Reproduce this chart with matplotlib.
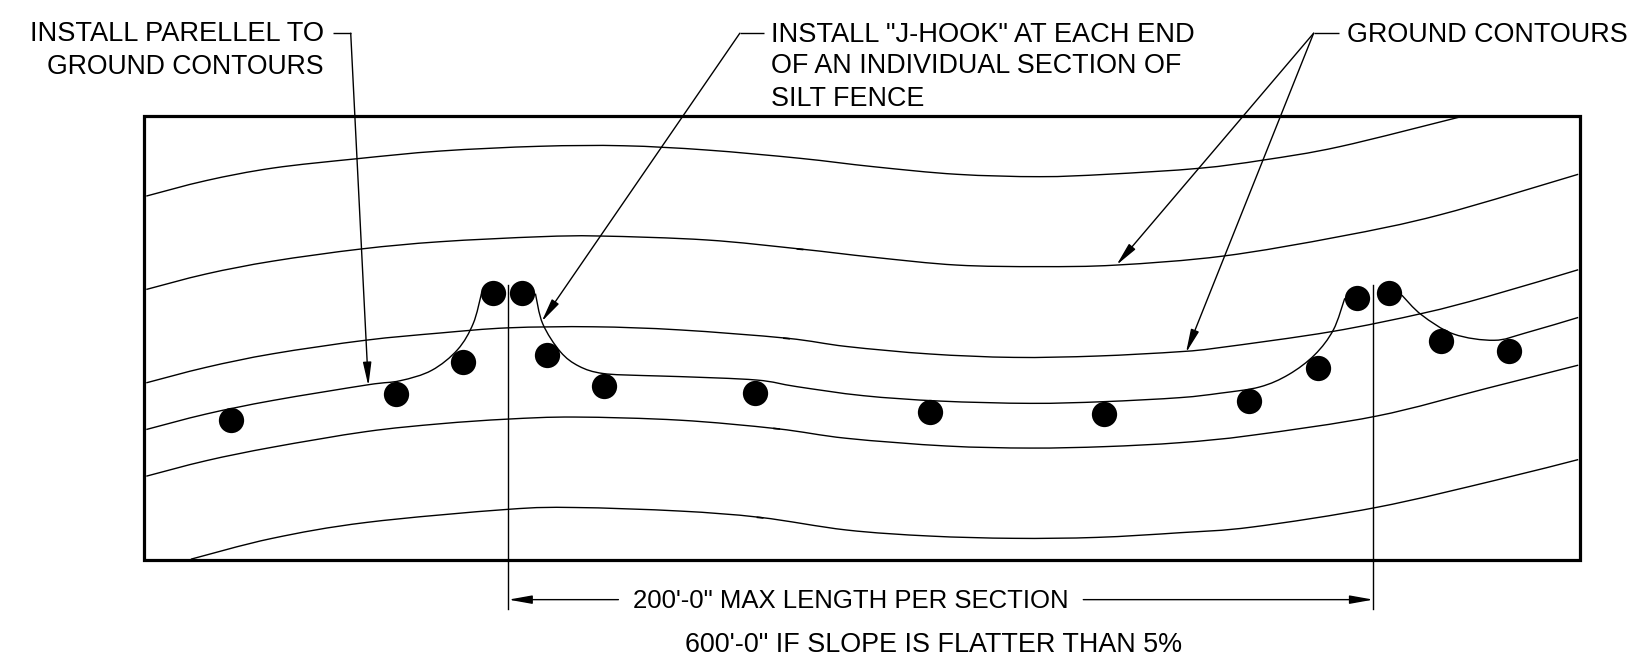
import matplotlib
matplotlib.use('Agg')
import matplotlib.pyplot as plt
from matplotlib.path import Path
from matplotlib.patches import PathPatch, Rectangle

plt.rcParams['font.family'] = ['Liberation Sans', 'DejaVu Sans']

# Ground contours
contour_1 = [(141, 189), (199, 174), (263, 162), (344, 153), (424, 145.6), (520, 141), (601, 140.5),
             (681, 144.6), (771, 152.6), (842, 160.7), (922, 168), (1002, 170.3), (1067, 168), (1156, 162.2),
             (1218, 154.2), (1291, 141.4), (1406, 113)]
contour_2 = [(141, 279), (199, 264), (263, 251.7), (348, 240), (424, 233), (520, 228.2), (578, 227.5),
             (681, 231.3), (771, 240), (842, 248), (922, 255.5), (1002, 257), (1076, 255.5), (1179, 246.8),
             (1291, 228), (1388, 207), (1521, 168)]
contour_3 = [(141, 369), (199, 354), (263, 341), (352, 328), (424, 321), (490, 316), (572, 315), (655, 318),
             (758, 326), (816, 334), (896, 341.2), (977, 344.5), (1057, 343.2), (1137, 339), (1176, 335),
             (1283, 319.7), (1371, 302), (1433, 286), (1521, 260)]
contour_5 = [(141, 459), (199, 444), (263, 431), (353, 416), (424, 408.5), (489, 404), (554, 402), (655, 405),
             (748.5, 413.2), (816, 422.5), (912, 429.9), (993, 431.9), (1065, 430.5), (1137, 426.7), (1207, 419.5),
             (1327, 401), (1433, 374.3), (1521, 352)]
contour_6 = [(184, 539), (262, 519), (353, 503.6), (489, 491), (554, 489.2), (655, 492.6), (732.5, 498.7),
             (816, 510.9), (896, 516.7), (977, 518.9), (1057, 518), (1137, 513.5), (1207, 508),
             (1327, 489), (1441, 463), (1521, 443)]

# Silt fence line, three pieces between the J-hooks
fence_left = [(141, 414), (199, 399), (263, 386), (354, 371), (385.5, 367), (416, 357), (441, 337),
              (456, 312), (464, 283)]
fence_mid = [(516, 283), (523, 312), (540, 339), (558, 353), (581, 360), (620, 362), (655, 363), (729, 366.3),
             (768, 372.7), (832, 381.4), (906, 386.6), (993, 388.8), (1063, 387.2), (1137, 383.3),
             (1176, 379), (1214, 373), (1242, 361), (1267, 342), (1285, 318), (1296, 287.5)]
fence_right = [(1351, 284.5), (1370, 303.5), (1401, 322), (1440, 328), (1470, 321), (1521, 306)]

# Stakes
stake_x = [223, 382, 446.5, 475.5, 503, 527.5, 582, 727.5, 896, 1063.5, 1204, 1270.5, 1308, 1338.6, 1388.8, 1454.4]
stake_y = [405, 380, 349, 282.5, 282, 342, 372, 378.5, 397.2, 398.8, 387, 355, 287, 282.8, 328.4, 338]

# Small nicks on the contours
nick_x = [771, 758, 748.5, 732.5]
nick_y = [240, 326, 413, 498.7]

# Leader lines
leader_1 = [(321, 32), (338, 32), (355, 372)]
leader_2 = [(736, 32), (713, 32), (522, 310)]
leader_3a = [(1290, 32), (1266, 32), (1076, 255.5)]
leader_3b = [(1266, 32), (1143, 340)]

# Extension and dimension lines
ext_left = 490
ext_right = 1323.5
ext_top = 275
ext_bottom = 587
dim_y = 578
dim_gap_left = 596
dim_gap_right = 1044

# Label text with the size that gives each line its width in the drawing
labels_right = [('INSTALL PARELLEL TO', 33, 19.6), ('GROUND CONTOURS', 65, 19.2)]
labels_left = [(743, 'INSTALL "J-HOOK" AT EACH END', 33.5, 19.6),
               (743, 'OF AN INDIVIDUAL SECTION OF', 64, 19.4),
               (743, 'SILT FENCE', 95, 19.4),
               (1298, 'GROUND CONTOURS', 33.5, 19.4)]
labels_center = [(820, '200\'-0" MAX LENGTH PER SECTION', 579.5, 18.5),
                 (900, '600\'-0" IF SLOPE IS FLATTER THAN 5%', 622, 19.4)]


def draw_curve(ax, points):
    # Smooth line through the read points, cubic pieces with tangents from the neighbours
    verts = [points[0]]
    codes = [Path.MOVETO]
    for i in range(len(points) - 1):
        p0 = points[max(i - 1, 0)]
        p1 = points[i]
        p2 = points[i + 1]
        p3 = points[min(i + 2, len(points) - 1)]
        c1 = (p1[0] + (p2[0] - p0[0]) / 6, p1[1] + (p2[1] - p0[1]) / 6)
        c2 = (p2[0] - (p3[0] - p1[0]) / 6, p2[1] - (p3[1] - p1[1]) / 6)
        verts += [c1, c2, p2]
        codes += [Path.CURVE4, Path.CURVE4, Path.CURVE4]
    ax.add_patch(PathPatch(Path(verts, codes), fill=False, edgecolor='black', lw=1.0))


def draw_arrow(ax, start, end):
    ax.annotate('', xy=end, xytext=start,
                arrowprops=dict(arrowstyle='-|>,head_length=0.95,head_width=0.17', mutation_scale=15,
                                color='black', lw=1.0, shrinkA=0, shrinkB=0))


def draw_leader(ax, points):
    xs = [p[0] for p in points]
    ys = [p[1] for p in points]
    ax.plot(xs[:-1], ys[:-1], color='black', lw=1.0, solid_capstyle='butt')
    draw_arrow(ax, points[-2], points[-1])


fig = plt.figure(figsize=(16.27, 6.65), dpi=100)
ax = fig.add_axes([0, 0, 1, 1])
ax.set_xlim(0, 1568)
ax.set_ylim(641, 0)
ax.axis('off')

# Site frame
ax.add_patch(Rectangle((139, 112), 1384, 428, fill=False, edgecolor='black', lw=2.3, zorder=3))

for contour in [contour_1, contour_2, contour_3, contour_5, contour_6]:
    draw_curve(ax, contour)
for piece in [fence_left, fence_mid, fence_right]:
    draw_curve(ax, piece)

for x, y in zip(nick_x, nick_y):
    ax.plot([x - 2.5, x + 2.5], [y, y + 0.5], color='black', lw=1.2)

ax.plot(stake_x, stake_y, 'o', color='black', ms=18.2, mew=0, zorder=4)

for leader in [leader_1, leader_2, leader_3a]:
    draw_leader(ax, leader)
draw_arrow(ax, leader_3b[0], leader_3b[1])

ax.plot([ext_left, ext_left], [ext_top, ext_bottom], color='black', lw=1.0)
ax.plot([ext_right, ext_right], [ext_top, ext_bottom], color='black', lw=1.0)
draw_arrow(ax, (dim_gap_left, dim_y), (ext_left, dim_y))
draw_arrow(ax, (dim_gap_right, dim_y), (ext_right, dim_y))

for text, y, size in labels_right:
    ax.text(312, y, text, ha='right', va='center', fontsize=size)
for x, text, y, size in labels_left:
    ax.text(x, y, text, ha='left', va='center', fontsize=size)
for x, text, y, size in labels_center:
    ax.text(x, y, text, ha='center', va='center', fontsize=size)

fig.savefig('out.png', dpi=100)
